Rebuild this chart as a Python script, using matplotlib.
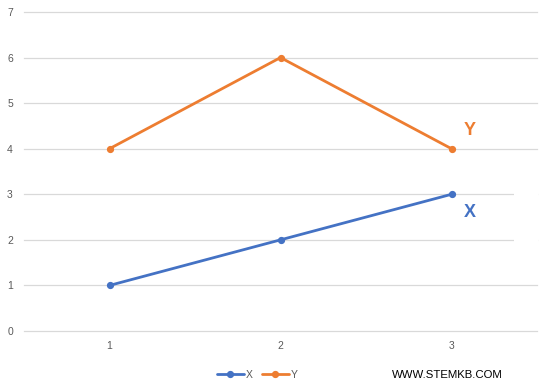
import matplotlib
matplotlib.use("Agg")
from matplotlib import pyplot as plt
from matplotlib.patches import Rectangle

plt.rcParams['font.family'] = ['Liberation Sans', 'DejaVu Sans']

categories = [1, 2, 3]
x_vals = [1, 2, 3]
y_vals = [4, 6, 4]
blue = '#4472C4'
orange = '#ED7D31'
grey = '#595959'

fig = plt.figure(figsize=(5.5, 3.9), dpi=100)
ax = fig.add_axes([24/550, 1 - 331/390, 513/550, 319/390])

ax.plot(categories, x_vals, color=blue, lw=2.0, marker='o', ms=4.2, label='X', solid_capstyle='round')
ax.plot(categories, y_vals, color=orange, lw=2.0, marker='o', ms=4.2, label='Y', solid_capstyle='round')

ax.set_xlim(0.5, 3.5)
ax.set_ylim(0, 7)
ax.set_yticks(range(0, 8))
ax.set_xticks(categories)
ax.grid(axis='y', color='#D9D9D9', lw=0.9)
for gl in ax.get_ygridlines():
    gl.set_clip_on(False)
ax.set_axisbelow(True)
for s in ax.spines.values():
    s.set_visible(False)
ax.tick_params(length=0, labelsize=7.5, labelcolor=grey)
ax.tick_params(axis='y', pad=8)
ax.tick_params(axis='x', pad=7)

# series labels at the end of the lines
ax.annotate('Y', (categories[-1], y_vals[-1]), xytext=(9, 13), textcoords='offset points',
            color=orange, fontsize=13, fontweight='bold', ha='left', va='center')
ax.annotate('X', (categories[-1], x_vals[-1]), xytext=(9, -13), textcoords='offset points',
            color=blue, fontsize=13, fontweight='bold', ha='left', va='center')

# white box behind the X label (clips the gridlines like the original)
fig.patches.append(Rectangle((514/550, 1 - 246/390), 24/550, 56/390,
                             transform=fig.transFigure, facecolor='white', edgecolor='none', zorder=0.5))

leg = fig.legend(loc='center', bbox_to_anchor=(257/550, 1 - 375/390), ncol=2, frameon=False,
                 fontsize=7.5, handlelength=2.6, handletextpad=0.15, columnspacing=0.9,
                 labelcolor=grey)

fig.text(447/550, 1 - 375/390, 'WWW.STEMKB.COM', ha='center', va='center',
         fontsize=8.2, color='black')

fig.savefig('out.png', dpi=100)
